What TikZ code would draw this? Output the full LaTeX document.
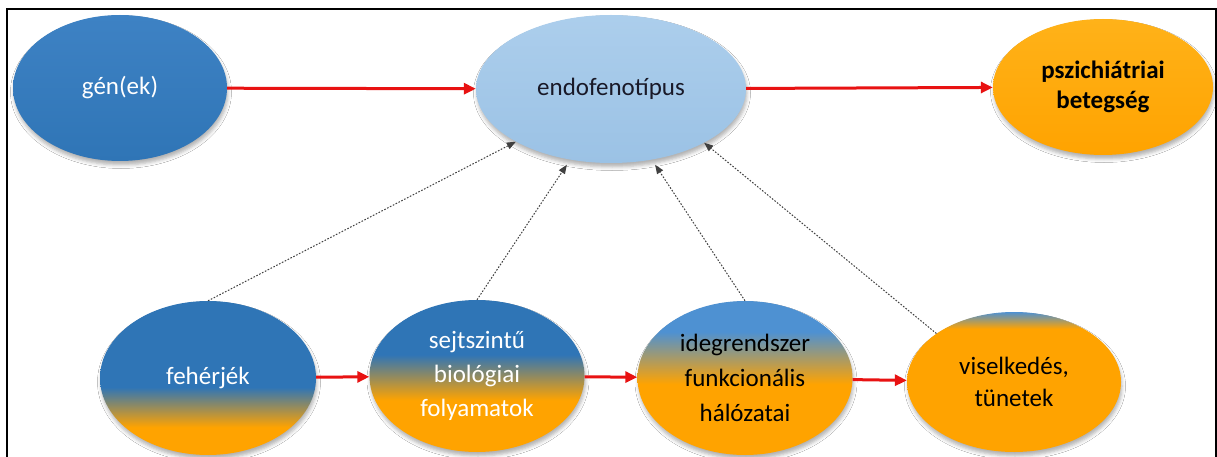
\documentclass[tikz,border=0pt]{standalone}
\usepackage{fontspec}
\setmainfont{Carlito}
\usetikzlibrary{shapes.geometric,arrows.meta,shadows.blur}
\definecolor{myblue}{RGB}{47,117,182}
\definecolor{myblueT}{RGB}{62,130,196}
\definecolor{myblueL}{RGB}{78,145,210}
\definecolor{lightb}{RGB}{155,194,229}
\definecolor{lightbT}{RGB}{172,206,236}
\definecolor{myorange}{RGB}{255,163,0}
\definecolor{myorangeT}{RGB}{255,178,25}
\definecolor{arrowred}{RGB}{232,18,18}
\definecolor{endotext}{RGB}{25,25,40}
\pgfdeclareverticalshading{shfeh}{100bp}{color(0bp)=(myorange); color(34bp)=(myorange); color(47bp)=(myblue); color(100bp)=(myblue)}
\pgfdeclareverticalshading{shsejt}{100bp}{color(0bp)=(myorange); color(42bp)=(myorange); color(57bp)=(myblue); color(100bp)=(myblue)}
\pgfdeclareverticalshading{shideg}{100bp}{color(0bp)=(myorange); color(48bp)=(myorange); color(65bp)=(myblueL); color(100bp)=(myblueL)}
\pgfdeclareverticalshading{shvis}{100bp}{color(0bp)=(myorange); color(69bp)=(myorange); color(75bp)=(myblueL); color(100bp)=(myblueL)}
\begin{document}
\begin{tikzpicture}[x=1pt,y=-1pt,
  ell/.style={ellipse, inner sep=0pt, align=center,
    font=\fontsize{25}{30}\selectfont,
    blur shadow={shadow xshift=1pt, shadow yshift=-4pt, shadow blur radius=3.5pt, shadow opacity=30}},
  redarr/.style={draw=arrowred, line width=3pt, -{Triangle[length=12pt,width=11pt]}},
  dotarr/.style={draw=black!75, dash pattern=on 1.6pt off 1.6pt, line width=1pt, -{Triangle[length=9pt,width=7pt]}}]
\useasboundingbox (0,0) rectangle (1217,457);
\fill[white] (0,0) rectangle (1217,457);
\draw[line width=2pt] (7,470) -- (7,9) -- (1215.5,9) -- (1215.5,470);

\node[ell, minimum width=214pt, minimum height=146pt, top color=myblueT, bottom color=myblue, text=white] (gen) at (120,88) {gén(ek)};
\node[ell, minimum width=270pt, minimum height=148pt, top color=lightbT, bottom color=lightb, text=endotext] (endo) at (611,89) {endofenotípus};
\node[ell, minimum width=220pt, minimum height=136pt, top color=myorangeT, bottom color=myorange, text=black, font=\fontsize{25}{30}\selectfont\bfseries] (psz) at (1103,87) {pszichiátriai\\betegség};

\node[ell, minimum width=216pt, minimum height=154pt, shading=shfeh, text=white] (feh) at (208,378) {fehérjék};
\node[ell, minimum width=215pt, minimum height=152pt, shading=shsejt, text=white, font=\fontsize{25}{34}\selectfont] (sejt) at (477,376) {sejtszintű\\biológiai\\folyamatok};
\node[ell, minimum width=215pt, minimum height=154pt, shading=shideg, text=black, font=\fontsize{25}{35}\selectfont] (ideg) at (745,378) {idegrendszer\\funkcionális\\hálózatai};
\node[ell, minimum width=214pt, minimum height=140pt, shading=shvis, text=black, font=\fontsize{25}{32}\selectfont] (vis) at (1014,382) {viselkedés,\\tünetek};

\draw[redarr] (gen) -- (endo);
\draw[redarr] (endo) -- (psz);
\draw[redarr] (feh) -- (sejt);
\draw[redarr] (sejt) -- (ideg);
\draw[redarr] (ideg) -- (vis);

\draw[dotarr] (feh.north) -- (endo.209);
\draw[dotarr, shorten >=6pt] (sejt.north) -- (endo.240);
\draw[dotarr, shorten >=6pt] (ideg.north) -- (endo.300);
\draw[dotarr] (vis.148) -- (endo.330);
\end{tikzpicture}
\end{document}
